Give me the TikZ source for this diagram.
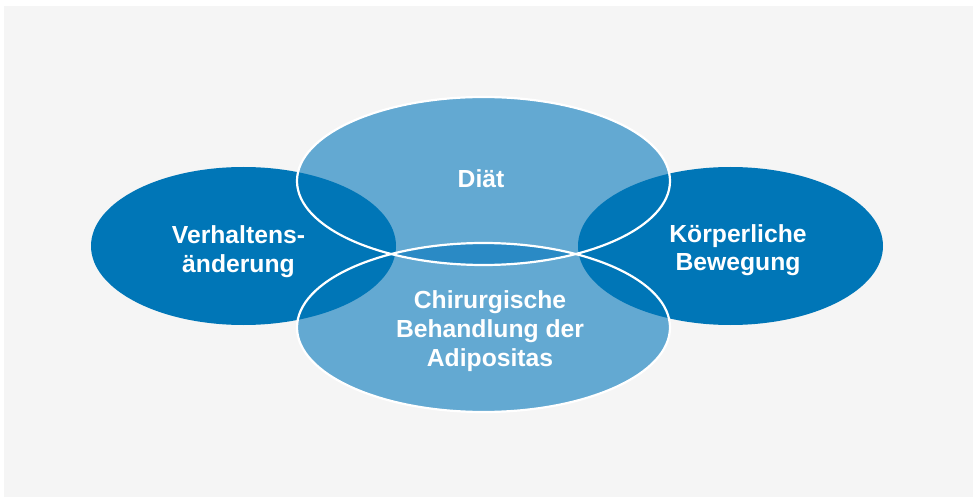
\documentclass[tikz,border=0pt]{standalone}
\usepackage{fontspec}
\setmainfont{Liberation Sans}
\definecolor{bgray}{HTML}{F5F5F5}
\definecolor{darkblue}{HTML}{0076B7}
\definecolor{lightblue}{HTML}{63A9D2}
\definecolor{lensblue}{HTML}{2A8AC5}
\begin{document}
\begin{tikzpicture}[x=1pt,y=-1pt,
  lbl/.style={text=white,font=\fontsize{24.7}{28.6}\selectfont\bfseries,align=center,anchor=base,inner sep=0pt},
  outline/.style={draw=white,line width=2.2pt}]
\useasboundingbox (0,0) rectangle (975,497);
\fill[white] (0,0) rectangle (975,497);
\fill[bgray] (4,6) rectangle (973,497);
% coordinates
\coordinate (ctop) at (483.5,181);
\coordinate (cbot) at (483.5,327.5);
\coordinate (cleft) at (243.5,246);
\coordinate (cright) at (730.5,246);
% light ellipses
\fill[lightblue] (ctop) ellipse [x radius=186.5pt, y radius=84pt];
\fill[lightblue] (cbot) ellipse [x radius=186.5pt, y radius=84.5pt];
\begin{scope}
  \clip (ctop) ellipse [x radius=186.5pt, y radius=84pt];
  \fill[lensblue] (cbot) ellipse [x radius=186.5pt, y radius=84.5pt];
\end{scope}
% dark ellipses
\fill[darkblue] (cleft) ellipse [x radius=152.5pt, y radius=79pt];
\fill[darkblue] (cright) ellipse [x radius=152.5pt, y radius=79pt];
% outlines
\draw[outline] (ctop) ellipse [x radius=186.5pt, y radius=84pt];
\draw[outline] (cbot) ellipse [x radius=186.5pt, y radius=84.5pt];
% labels (base anchor = baseline of last line)
\node[lbl] (diaet) at (481,188) {Diät};
\node[lbl] (verh) at (238.5,272.5) {Verhaltens-\\änderung};
\node[lbl] (koerp) at (738,271) {Körperliche\\Bewegung};
\node[lbl] (chir) at (490,366) {Chirurgische\\Behandlung der\\Adipositas};
\end{tikzpicture}
\end{document}
